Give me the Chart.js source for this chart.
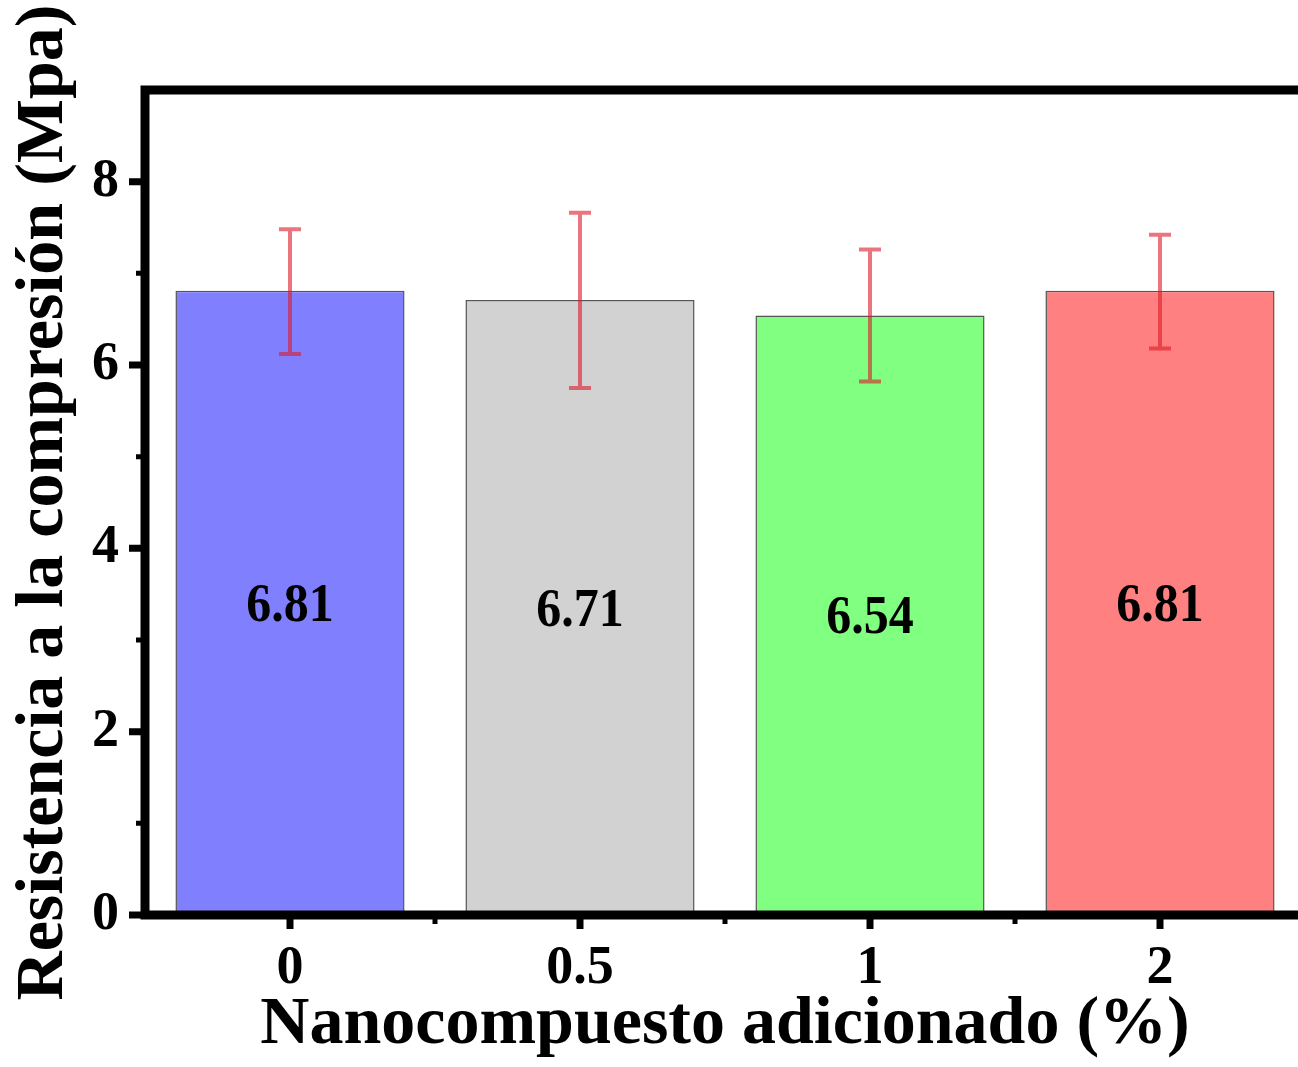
<!DOCTYPE html>
<html>
<head>
<meta charset="utf-8">
<script src="https://cdn.jsdelivr.net/npm/chart.js@4.4.1/dist/chart.umd.min.js"></script>
<style>
  html, body { margin: 0; padding: 0; overflow: hidden; background: #fff; }
  canvas { display: block; }
</style>
</head>
<body>
<canvas id="chart" width="1310" height="1067"></canvas>
<script>
// data
const categories = ['0', '0.5', '1', '2'];
const strength = [6.81, 6.71, 6.54, 6.81];
const errLow = [6.12, 5.75, 5.82, 6.18];
const errHigh = [7.48, 7.66, 7.26, 7.42];
const yTicks = [0, 2, 4, 6, 8];
const yMinorTicks = [1, 3, 5, 7];

const barColors = ['#8080ff', '#d2d2d2', '#80ff80', '#ff8080'];
const serif = '"Liberation Serif", "Times New Roman", serif';

// thick black frame + outward ticks like the Origin plot
const framePlugin = {
    id: 'frame',
    afterDatasetsDraw(chart) {
        const { ctx, chartArea: a, scales } = chart;
        const x = scales.x, y = scales.y;
        ctx.save();
        ctx.strokeStyle = '#000';
        ctx.lineWidth = 9;
        ctx.lineCap = 'square';
        ctx.beginPath();
        ctx.moveTo(a.left, a.bottom);
        ctx.lineTo(a.left, a.top);
        ctx.lineTo(a.right, a.top);
        ctx.lineTo(a.right, a.bottom);
        ctx.closePath();
        ctx.stroke();

        ctx.lineCap = 'butt';
        ctx.lineWidth = 7;
        ctx.beginPath();
        yTicks.forEach(v => {
            const py = y.getPixelForValue(v);
            ctx.moveTo(a.left, py);
            ctx.lineTo(a.left - 16, py);
        });
        categories.forEach((c, i) => {
            const px = x.getPixelForValue(i);
            ctx.moveTo(px, a.bottom);
            ctx.lineTo(px, a.bottom + 14);
        });
        ctx.stroke();

        ctx.lineWidth = 5;
        ctx.beginPath();
        yMinorTicks.forEach(v => {
            const py = y.getPixelForValue(v);
            ctx.moveTo(a.left, py);
            ctx.lineTo(a.left - 9, py);
        });
        for (let i = 0; i < categories.length - 1; i++) {
            const px = x.getPixelForValue(i + 0.5);
            ctx.moveTo(px, a.bottom);
            ctx.lineTo(px, a.bottom + 9);
        }
        ctx.stroke();
        ctx.restore();
    }
};

// error bars and the value printed in the middle of each bar
const errorBarPlugin = {
    id: 'errorBars',
    afterDatasetsDraw(chart) {
        const { ctx, scales } = chart;
        const meta = chart.getDatasetMeta(0);
        ctx.save();
        meta.data.forEach((bar, i) => {
            const px = bar.x;
            const top = scales.y.getPixelForValue(errHigh[i]);
            const bot = scales.y.getPixelForValue(errLow[i]);
            ctx.strokeStyle = 'rgba(222, 25, 40, 0.6)';
            ctx.lineWidth = 4;
            ctx.beginPath();
            ctx.moveTo(px, top);
            ctx.lineTo(px, bot);
            ctx.moveTo(px - 11, top);
            ctx.lineTo(px + 11, top);
            ctx.moveTo(px - 11, bot);
            ctx.lineTo(px + 11, bot);
            ctx.stroke();

            // label sits at mid-height of the bar, font a bit taller than wide
            const mid = (bar.y + bar.base) / 2 + 4;
            ctx.save();
            ctx.translate(px, mid);
            ctx.scale(1, 1.1);
            ctx.fillStyle = '#000';
            ctx.font = 'bold 50px ' + serif;
            ctx.textAlign = 'center';
            ctx.textBaseline = 'middle';
            ctx.fillText(strength[i].toFixed(2), 0, 0);
            ctx.restore();
        });
        ctx.restore();
    }
};

new Chart(document.getElementById('chart').getContext('2d'), {
    type: 'bar',
    data: {
        labels: categories,
        datasets: [{
            data: strength,
            backgroundColor: barColors,
            borderColor: '#555',
            borderWidth: 1.5,
            barPercentage: 0.79,
            categoryPercentage: 1
        }]
    },
    options: {
        responsive: false,
        animation: false,
        layout: { padding: { top: 90, right: 5, left: 0, bottom: 0 } },
        plugins: {
            legend: { display: false },
            tooltip: { enabled: false }
        },
        scales: {
            x: {
                grid: { display: false, drawTicks: false },
                border: { display: false },
                ticks: {
                    color: '#000',
                    padding: 22,
                    font: { family: serif, size: 54, weight: 'bold' }
                },
                title: {
                    display: true,
                    text: 'Nanocompuesto adicionado (%)',
                    color: '#000',
                    padding: { top: 0, bottom: 1 },
                    font: { family: serif, size: 68, weight: 'bold' }
                },
                afterFit(scale) { scale.height = 152; }
            },
            y: {
                min: 0,
                max: 9,
                grid: { display: false, drawTicks: false },
                border: { display: false },
                afterBuildTicks(scale) {
                    scale.ticks = yTicks.map(v => ({ value: v }));
                },
                ticks: {
                    color: '#000',
                    padding: 26,
                    font: { family: serif, size: 54, weight: 'bold' }
                },
                title: {
                    display: true,
                    text: 'Resistencia a la compresión (Mpa)',
                    color: '#000',
                    padding: { top: 4, bottom: 0 },
                    font: { family: serif, size: 68, weight: 'bold' }
                },
                afterFit(scale) { scale.width = 145; }
            }
        }
    },
    plugins: [framePlugin, errorBarPlugin]
});
</script>
</body>
</html>
